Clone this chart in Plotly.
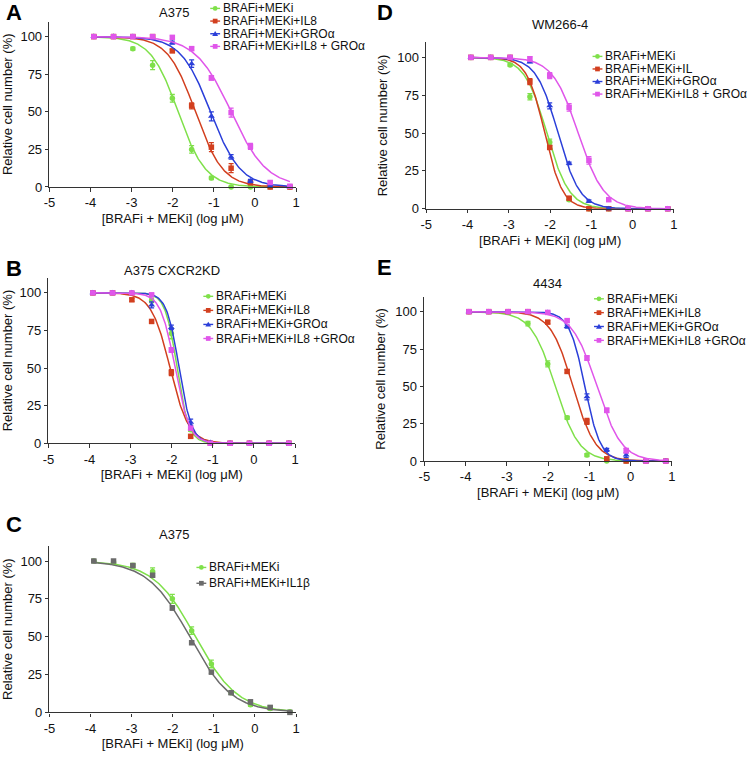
import numpy as np
import plotly.graph_objects as go

W, H = 748, 757
FONT = "Liberation Sans, Arial, Helvetica, sans-serif"

# ---------------- data ----------------
log_conc = [-3.92, -3.44, -2.97, -2.49, -2.01, -1.54, -1.06, -0.58, -0.11, 0.37, 0.85]
x_tick_vals = [-5, -4, -3, -2, -1, 0, 1]
x_tick_text = ["-5", "-4", "-3", "-2", "-1", "0", "1"]
y_tick_vals = [0, 25, 50, 75, 100]
x_title = "[BRAFi + MEKi] (log μM)"
y_title = "Relative cell number (%)"

# Panel A  (A375)
a_title = "A375"
a_names = ["BRAFi+MEKi", "BRAFi+MEKi+IL8", "BRAFi+MEKi+GROα", "BRAFi+MEKi+IL8 + GROα"]
a_mek = [100, 100, 92, 81, 59, 25, 6, 0, 0, 0, 0]
a_mek_err = [0.5, 0.5, 1, 3, 2.5, 2.5, 1, 0.5, 0.5, 0.5, 0.5]
a_il8 = [100, 100, 100, 100, 90.5, 54, 26.5, 12.5, 3, 0, 0]
a_il8_err = [0.5, 0.5, 0.5, 0.5, 1, 2, 3, 3, 1.5, 0.5, 0.5]
a_gro = [100, 100, 100, 99, 96, 82, 47, 20, 4, 0.5, 0]
a_gro_err = [0.5, 0.5, 0.5, 0.5, 1, 2.5, 3, 1.5, 1, 0.5, 0.5]
a_both = [100, 100, 100, 100, 99.5, 92, 72.5, 49.5, 27, 3, 0.5]
a_both_err = [0.5, 0.5, 0.5, 0.5, 1, 1, 1.5, 3, 2, 1, 0.5]
a_logic50 = [-1.87, -1.45, -1.08, -0.58]
a_hill = [1.3, 1.3, 1.2, 1.0]

# Panel B  (A375 CXCR2KD)
b_title = "A375 CXCR2KD"
b_names = ["BRAFi+MEKi", "BRAFi+MEKi+IL8", "BRAFi+MEKi+GROα", "BRAFi+MEKi+IL8 +GROα"]
b_mek = [100, 100, 100, 95, 73, 9, 0, 0, 0, 0, 0]
b_mek_err = [0.5, 0.5, 0.5, 1.5, 3.5, 1, 0.5, 0.5, 0.5, 0.5, 0.5]
b_il8 = [100, 100, 95.4, 81, 47, 4.6, 0, 0, 0, 0, 0]
b_il8_err = [0.5, 0.5, 1, 1, 2, 1, 0.5, 0.5, 0.5, 0.5, 0.5]
b_gro = [100, 100, 100, 92, 77, 14, 0.5, 0, 0, 0, 0]
b_gro_err = [0.5, 0.5, 0.5, 2, 1.5, 2, 0.5, 0.5, 0.5, 0.5, 0.5]
b_both = [100, 100, 100, 98.7, 62, 10, 0, 0, 0, 0, 0]
b_both_err = [0.5, 0.5, 0.5, 0.8, 1.5, 1, 0.5, 0.5, 0.5, 0.5, 0.5]
b_logic50 = [-1.87, -2.04, -1.82, -1.92]
b_hill = [3.0, 1.9, 2.85, 2.48]

# Panel C  (A375, IL1β)
c_title = "A375"
c_names = ["BRAFi+MEKi", "BRAFi+MEKi+IL1β"]
c_mek = [100, 99, 97, 93, 75, 54, 32, 13, 5, 2.6, 0.4]
c_mek_err = [0.5, 0.8, 1.5, 2.5, 3, 2.5, 2.5, 1, 1, 1, 0.5]
c_il1b = [100, 100, 97, 90.6, 69, 46, 26.6, 13, 7, 3.3, 0]
c_il1b_err = [0.5, 0.5, 1, 1, 1.5, 1, 1, 1, 1, 1, 0.5]
c_logic50 = [-1.45, -1.59]
c_hill = [0.85, 0.85]

# Panel D  (WM266-4)
d_title = "WM266-4"
d_names = ["BRAFi+MEKi", "BRAFi+MEKi+IL", "BRAFi+MEKi+GROα", "BRAFi+MEKi+IL8 + GROα"]
d_mek = [100, 100, 95, 74, 44, 6, 0, 0, 0, 0, 0]
d_mek_err = [0.5, 0.5, 0.8, 2, 2, 1, 0.5, 0.5, 0.5, 0.5, 0.5]
d_il = [100, 100, 100, 84, 40.5, 7, 0, 0, 0, 0, 0]
d_il_err = [0.5, 0.5, 0.5, 2, 1, 1, 0.5, 0.5, 0.5, 0.5, 0.5]
d_gro = [100, 100, 100, 97, 68, 30, 5, 0, 0, 0, 0]
d_gro_err = [0.5, 0.5, 0.5, 0.5, 2, 0.8, 0.8, 0.5, 0.5, 0.5, 0.5]
d_both = [100, 100, 100, 99, 88, 67, 32, 6, 0, 0, 0]
d_both_err = [0.5, 0.5, 0.5, 1.5, 2, 2.5, 2.5, 1, 0.5, 0.5, 0.5]
d_logic50 = [-2.08, -2.13, -1.81, -1.32]
d_hill = [1.6, 2.0, 1.65, 1.4]

# Panel E  (4434)
e_title = "4434"
e_names = ["BRAFi+MEKi", "BRAFi+MEKi+IL8", "BRAFi+MEKi+GROα", "BRAFi+MEKi+IL8 +GROα"]
e_mek = [100, 100, 100, 92, 65, 29, 4, 0, 0, 0, 0]
e_mek_err = [0.5, 0.5, 0.5, 1.5, 2, 1, 1, 0.5, 0.5, 0.5, 0.5]
e_il8 = [100, 100, 100, 100, 93, 60, 26.5, 1.5, 0, 0, 0]
e_il8_err = [0.5, 0.5, 0.5, 0.5, 1, 1, 2, 1, 0.5, 0.5, 0.5]
e_gro = [100, 100, 100, 100, 99.5, 90, 43, 7.5, 4, 0, 0]
e_gro_err = [0.5, 0.5, 0.5, 0.5, 0.5, 1, 2, 1, 1.5, 0.5, 0.5]
e_both = [100, 100, 100, 100, 99.5, 94, 69, 34, 7, 0, 0]
e_both_err = [0.5, 0.5, 0.5, 0.5, 1, 1, 1.5, 1.5, 1.5, 0.5, 0.5]
e_logic50 = [-1.83, -1.40, -1.11, -0.82]
e_hill = [1.5, 1.6, 2.3, 1.45]

# ---------------- styles ----------------
GREEN, RED, BLUE, MAG, GRAY = "#7fe04a", "#d23f1f", "#2b3fd9", "#e056ea", "#6b6b6b"
AX = "#333333"
four_colors = [GREEN, RED, BLUE, MAG]
four_symbols = ["circle", "square", "triangle-up", "square"]

panels = [
    dict(letter="A", title=a_title, names=a_names,
         ys=[a_mek, a_il8, a_gro, a_both], errs=[a_mek_err, a_il8_err, a_gro_err, a_both_err],
         c50=a_logic50, hill=a_hill, colors=four_colors, symbols=four_symbols,
         xd=(44, 294), yd=(21.8, 189), letter_pos=(8.5, 12.5), title_pos=(170, 13),
         leg_x=212, leg_top=8.5, leg_step=12.8),
    dict(letter="B", title=b_title, names=b_names,
         ys=[b_mek, b_il8, b_gro, b_both], errs=[b_mek_err, b_il8_err, b_gro_err, b_both_err],
         c50=b_logic50, hill=b_hill, colors=four_colors, symbols=four_symbols,
         xd=(43, 293), yd=(280.8, 448), letter_pos=(8, 271), title_pos=(168, 273),
         leg_x=205, leg_top=299.5, leg_step=14.2),
    dict(letter="C", title=c_title, names=c_names,
         ys=[c_mek, c_il1b], errs=[c_mek_err, c_il1b_err],
         c50=c_logic50, hill=c_hill, colors=[GREEN, GRAY], symbols=["circle", "square"],
         xd=(44, 294), yd=(551.7, 720), letter_pos=(8, 530), title_pos=(170, 540),
         leg_x=198, leg_top=573.5, leg_step=16),
    dict(letter="D", title=d_title, names=d_names,
         ys=[d_mek, d_il, d_gro, d_both], errs=[d_mek_err, d_il_err, d_gro_err, d_both_err],
         c50=d_logic50, hill=d_hill, colors=four_colors, symbols=four_symbols,
         xd=(426, 677), yd=(42.7, 211), letter_pos=(384.5, 12.5), title_pos=(561, 25),
         leg_x=599.5, leg_top=57, leg_step=12.7),
    dict(letter="E", title=e_title, names=e_names,
         ys=[e_mek, e_il8, e_gro, e_both], errs=[e_mek_err, e_il8_err, e_gro_err, e_both_err],
         c50=e_logic50, hill=e_hill, colors=four_colors, symbols=four_symbols,
         xd=(424, 675), yd=(299.9, 466), letter_pos=(384, 270), title_pos=(549, 287),
         leg_x=601, leg_top=302, leg_step=14),
]


def px(x):
    return x / W


def py(y):
    return 1 - y / H


def four_pl(x, logic50, hill, top=100.0, bottom=0.0):
    return bottom + (top - bottom) / (1 + 10 ** ((x - logic50) * hill))


fig = go.Figure()
annotations = []
shapes = []
layout_axes = {}
xc = np.linspace(log_conc[0], log_conc[-1], 300)

for i, p in enumerate(panels, start=1):
    xa = "x" if i == 1 else f"x{i}"
    ya = "y" if i == 1 else f"y{i}"
    for name, yv, ev, c50, h, col, sym in zip(p["names"], p["ys"], p["errs"], p["c50"],
                                               p["hill"], p["colors"], p["symbols"]):
        fig.add_trace(go.Scatter(x=xc, y=four_pl(xc, c50, h), mode="lines",
                                 line=dict(color=col, width=1.5), xaxis=xa, yaxis=ya,
                                 showlegend=False, hoverinfo="skip"))
        fig.add_trace(go.Scatter(x=log_conc, y=yv, mode="markers", name=name,
                                 marker=dict(symbol=sym, size=5.5 if sym != "triangle-up" else 6,
                                             color=col),
                                 error_y=dict(type="data", array=ev, color=col,
                                              thickness=1.3, width=2.5),
                                 xaxis=xa, yaxis=ya, showlegend=False, cliponaxis=False))

    axis_common = dict(showline=True, linecolor=AX, linewidth=1.4, ticks="outside",
                       ticklen=3.5, tickwidth=1.4, tickcolor=AX, showgrid=False, zeroline=False,
                       tickfont=dict(size=13, color="#111", family=FONT), fixedrange=True)
    kx = "xaxis" if i == 1 else f"xaxis{i}"
    ky = "yaxis" if i == 1 else f"yaxis{i}"
    layout_axes[kx] = dict(axis_common, domain=[px(p["xd"][0]), px(p["xd"][1])], anchor=ya,
                           range=[-5, 1], tickvals=x_tick_vals, ticktext=x_tick_text,
                           title=dict(text=x_title, font=dict(size=13, color="#111", family=FONT),
                                      standoff=4))
    layout_axes[ky] = dict(axis_common, domain=[py(p["yd"][1]), py(p["yd"][0])], anchor=xa,
                           range=[0, 110], tickvals=y_tick_vals,
                           title=dict(text=y_title, font=dict(size=13, color="#111", family=FONT),
                                      standoff=6))

    # panel letter and title
    annotations.append(dict(text=f"<b>{p['letter']}</b>", x=px(p["letter_pos"][0]),
                            y=py(p["letter_pos"][1]), xref="paper", yref="paper",
                            xanchor="center", yanchor="middle", showarrow=False, borderpad=0,
                            font=dict(size=22, color="#000", family=FONT)))
    annotations.append(dict(text=p["title"], x=px(p["title_pos"][0]), y=py(p["title_pos"][1]),
                            xref="paper", yref="paper", xanchor="center", yanchor="middle",
                            showarrow=False, font=dict(size=13, color="#111", family=FONT)))

    # legend (drawn manually for the tight row spacing of the original)
    lx = p["leg_x"]
    step = p["leg_step"]
    rows = [p["leg_top"] + k * step for k in range(len(p["names"]))]
    for col, sym, ry in zip(p["colors"], p["symbols"], rows):
        shapes.append(dict(type="line", xref="paper", yref="paper",
                           x0=px(lx - 5), x1=px(lx + 5), y0=py(ry), y1=py(ry),
                           line=dict(color=col, width=1.4)))
        r = 2.4
        if sym == "circle":
            shapes.append(dict(type="circle", xref="paper", yref="paper",
                               x0=px(lx - r), x1=px(lx + r), y0=py(ry + r), y1=py(ry - r),
                               fillcolor=col, line=dict(width=0)))
        elif sym == "square":
            shapes.append(dict(type="rect", xref="paper", yref="paper",
                               x0=px(lx - r), x1=px(lx + r), y0=py(ry + r), y1=py(ry - r),
                               fillcolor=col, line=dict(width=0)))
        else:
            path = (f"M {px(lx - 3)} {py(ry + 2.2)} L {px(lx + 3)} {py(ry + 2.2)} "
                    f"L {px(lx)} {py(ry - 2.8)} Z")
            shapes.append(dict(type="path", xref="paper", yref="paper", path=path,
                               fillcolor=col, line=dict(width=0)))
    base = step / 1.3  # line spacing of the text block follows the base font size
    text = "<br>".join(f'<span style="font-size:12px">{n}</span>' for n in p["names"])
    annotations.append(dict(text=text, x=px(lx + 7), y=py((rows[0] + rows[-1]) / 2),
                            xref="paper", yref="paper", xanchor="left", yanchor="middle",
                            align="left", showarrow=False, borderpad=0,
                            font=dict(size=base, color="#111", family=FONT)))

fig.update_layout(
    width=W, height=H,
    margin=dict(l=0, r=0, t=0, b=0),
    paper_bgcolor="white", plot_bgcolor="white",
    showlegend=False,
    annotations=annotations, shapes=shapes,
    font=dict(family=FONT, color="#111"),
    **layout_axes,
)

fig.write_html("out.html", config={"displayModeBar": False},
               post_script="document.body.style.margin='0';document.body.style.overflow='hidden';")
